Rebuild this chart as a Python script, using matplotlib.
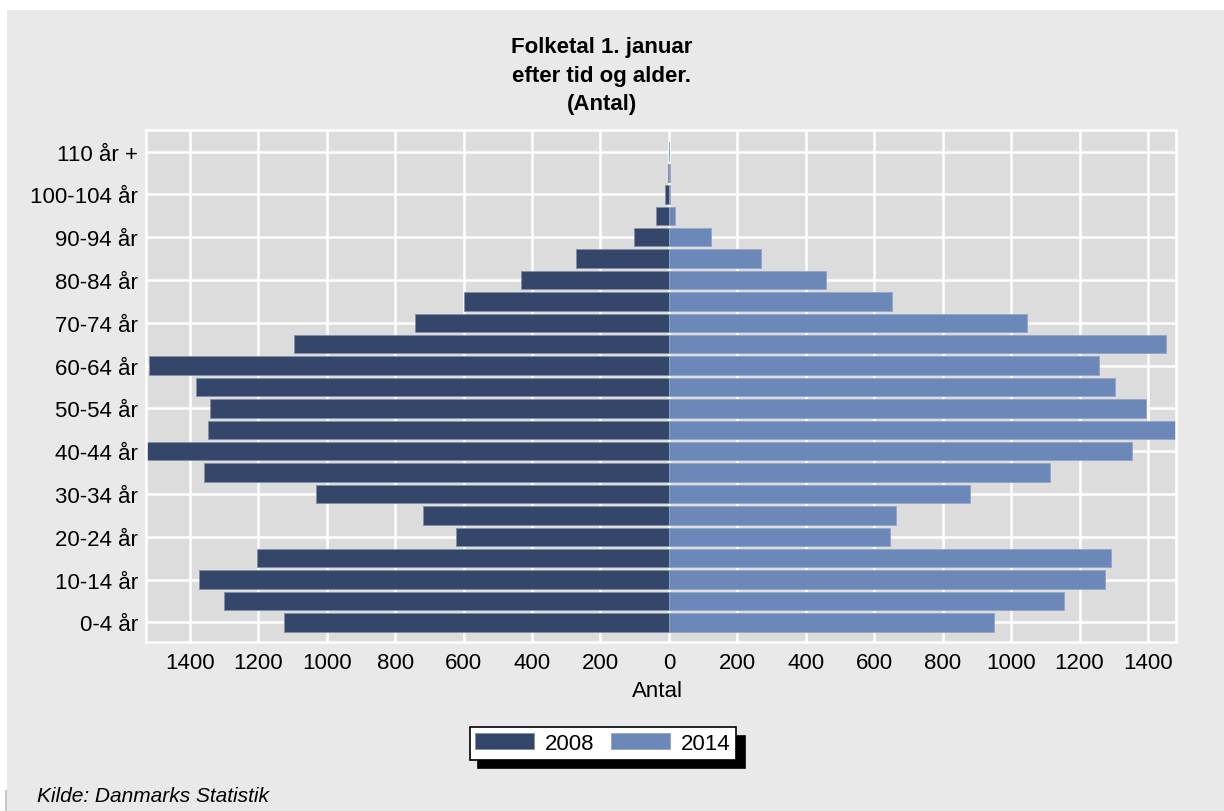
import matplotlib
matplotlib.use('Agg')
import matplotlib.pyplot as plt
from matplotlib.patches import Rectangle
from matplotlib.lines import Line2D
from matplotlib.ticker import FuncFormatter

# ---- data ----
ages = ['0-4 år', '5-9 år', '10-14 år', '15-19 år', '20-24 år', '25-29 år',
        '30-34 år', '35-39 år', '40-44 år', '45-49 år', '50-54 år', '55-59 år',
        '60-64 år', '65-69 år', '70-74 år', '75-79 år', '80-84 år', '85-89 år',
        '90-94 år', '95-99 år', '100-104 år', '105-109 år', '110 år +']
v2008 = [1126, 1300, 1373, 1204, 623, 718, 1031, 1359, 1545, 1348, 1340, 1383,
         1520, 1096, 743, 599, 431, 270, 102, 37, 12, 2, 1]
v2014 = [951, 1155, 1275, 1292, 645, 663, 879, 1113, 1352, 1495, 1394, 1304,
         1256, 1453, 1047, 651, 460, 268, 124, 17, 3, 2, 1]
series_names = ['2008', '2014']
xtick_values = [-1400, -1200, -1000, -800, -600, -400, -200, 0,
                200, 400, 600, 800, 1000, 1200, 1400]
title_lines = ['Folketal 1. januar', 'efter tid og alder.', '(Antal)']
source_text = 'Kilde: Danmarks Statistik'

# ---- style ----
plt.rcParams['font.family'] = ['Liberation Sans', 'DejaVu Sans']
W, H = 1224, 812
fig = plt.figure(figsize=(W / 100, H / 100), dpi=100)
fig.patch.set_facecolor('white')
fig.patches.append(Rectangle((7 / W, 0), 1 - 7 / W, 1 - 11 / H,
                             transform=fig.transFigure, facecolor='#e9e9e9',
                             edgecolor='none', zorder=-10))
fig.lines.append(Line2D([6 / W, 6 / W], [0, 1 - 792 / H], transform=fig.transFigure,
                        color='#c8c8c8', lw=1.5))

ax = fig.add_axes([146 / W, 1 - 643 / H, (1176 - 146) / W, (643 - 131) / H])
ax.set_facecolor('#dcdcdc')

dark = '#34476a'
light = '#6c88b8'
ypos = list(range(len(ages)))
ax.barh(ypos, [-v for v in v2008], height=0.86, color=dark,
        edgecolor='#8090a8', linewidth=0.6, label=series_names[0], zorder=2)
ax.barh(ypos, v2014, height=0.86, color=light,
        edgecolor='#93a5c6', linewidth=0.6, label=series_names[1], zorder=2)

ax.set_xlim(-1528, 1482)
ax.set_ylim(-0.92, 23.01)
ax.set_xticks(xtick_values)
ax.xaxis.set_major_formatter(FuncFormatter(lambda v, p: f'{abs(int(v))}'))
ax.set_yticks(ypos[::2])
ax.set_yticklabels(ages[::2])
ax.tick_params(axis='both', length=0, labelsize=16, colors='black')
ax.tick_params(axis='y', pad=6)
ax.tick_params(axis='x', pad=7)
ax.set_axisbelow(True)
ax.grid(True, color='white', linewidth=1.8)
for s in ax.spines.values():
    s.set_color('white')
    s.set_linewidth(1.8)

ax.set_xlabel('Antal', fontsize=16)
ax.xaxis.set_label_coords((657 - 146) / 1030, (643 - 681) / 512)

# title
for line, yb in zip(title_lines, [53, 82, 110]):
    fig.text(601.5 / W, 1 - yb / H, line, ha='center', va='baseline',
             fontsize=16, fontweight='bold')

# legend
leg = fig.legend(loc='center', bbox_to_anchor=(603 / W, 1 - 744.5 / H), ncol=2,
                 fontsize=16, frameon=True, fancybox=False, edgecolor='black',
                 facecolor='white', framealpha=1, handlelength=2.65,
                 handleheight=0.75, columnspacing=0.75, handletextpad=0.5,
                 borderpad=0.25, borderaxespad=0,
                 shadow={'ox': 6, 'oy': -6, 'color': 'black', 'alpha': 1})
leg.get_frame().set_linewidth(1.2)

fig.text(37 / W, 1 - 802 / H, source_text, ha='left', va='baseline',
         fontsize=15, style='italic')

fig.savefig('out.png', dpi=100, facecolor=fig.get_facecolor())
